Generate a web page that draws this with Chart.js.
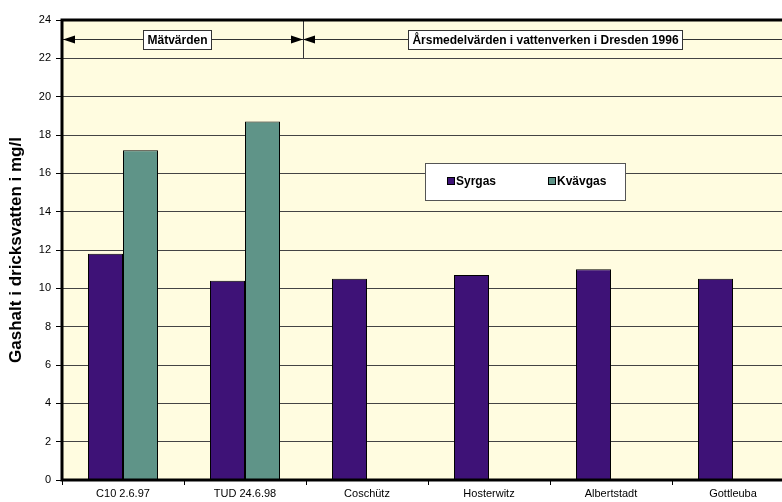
<!DOCTYPE html>
<html>
<head>
<meta charset="utf-8">
<script src="https://cdn.jsdelivr.net/npm/chart.js@4"></script>
<style>
  html, body { margin: 0; padding: 0; background: #fff; overflow: hidden; }
  #wrap { width: 800px; height: 502px; }
</style>
</head>
<body>
<div id="wrap"><canvas id="gasChart" width="800" height="502"></canvas></div>
<script>
// Gashalt per provplats (mg/l)
const categories = ['C10 2.6.97', 'TUD 24.6.98', 'Coschütz', 'Hosterwitz', 'Albertstadt', 'Gottleuba'];
const syrgas = [11.8, 10.4, 10.5, 10.7, 11.0, 10.5];
const kvavgas = [17.2, 18.7, null, null, null, null];
const seriesNames = ['Syrgas', 'Kvävgas'];
const seriesColors = ['#3E1277', '#5F9488'];
const yMin = 0, yMax = 24, yStep = 2;
const periodLabels = ['Mätvärden', 'Årsmedelvärden i vattenverken i Dresden 1996'];
const yTitle = 'Gashalt i dricksvatten i mg/l';

const FONT = "'Liberation Sans', Arial, sans-serif";

function arrowHead(ctx, x, y, dir) {
    ctx.beginPath();
    ctx.moveTo(x, y);
    ctx.lineTo(x - dir * 12, y - 4);
    ctx.lineTo(x - dir * 12, y + 4);
    ctx.closePath();
    ctx.fill();
}

function boxedLabel(ctx, text, cx, cy) {
    ctx.font = 'bold 12px ' + FONT;
    const w = ctx.measureText(text).width + 8;
    const h = 19;
    ctx.fillStyle = '#fff';
    ctx.fillRect(cx - w / 2, cy - h / 2, w, h);
    ctx.strokeStyle = '#333';
    ctx.lineWidth = 1;
    ctx.strokeRect(Math.round(cx - w / 2) + 0.5, Math.round(cy - h / 2) + 0.5, Math.round(w), h);
    ctx.fillStyle = '#000';
    ctx.textAlign = 'center';
    ctx.textBaseline = 'middle';
    ctx.fillText(text, cx, cy + 1);
}

// bakgrund, perioder med pilar, förklaring och ram
const decor = {
    id: 'decor',
    beforeDraw(chart) {
        const { ctx, chartArea: a } = chart;
        ctx.save();
        ctx.fillStyle = '#FFFCE0';
        ctx.fillRect(a.left, a.top, a.right - a.left, a.bottom - a.top);
        ctx.restore();
    },
    afterDatasetsDraw(chart) {
        const { ctx, chartArea: a, scales } = chart;
        const x = scales.x, y = scales.y;
        ctx.save();
        const split = (x.getPixelForValue(1) + x.getPixelForValue(2)) / 2 - 3;
        const ay = Math.round(y.getPixelForValue(23)) + 0.5;
        ctx.strokeStyle = '#333';
        ctx.lineWidth = 1;
        ctx.beginPath();
        ctx.moveTo(Math.round(split) + 0.5, a.top);
        ctx.lineTo(Math.round(split) + 0.5, y.getPixelForValue(22));
        ctx.moveTo(a.left, ay);
        ctx.lineTo(a.right, ay);
        ctx.stroke();
        ctx.fillStyle = '#000';
        arrowHead(ctx, a.left + 1, ay, -1);
        arrowHead(ctx, split, ay, 1);
        arrowHead(ctx, split, ay, -1);
        arrowHead(ctx, a.right, ay, 1);
        boxedLabel(ctx, periodLabels[0], (a.left + split) / 2 - 5, ay);
        boxedLabel(ctx, periodLabels[1], (split + a.right) / 2 - 3, ay);

        // förklaring
        const lx = 425, ly = 163, lw = 200, lh = 37;
        ctx.fillStyle = '#fff';
        ctx.fillRect(lx, ly, lw, lh);
        ctx.strokeStyle = '#555';
        ctx.strokeRect(lx + 0.5, ly + 0.5, lw, lh);
        const itemX = [447, 548];
        ctx.font = 'bold 12px ' + FONT;
        ctx.textAlign = 'left';
        ctx.textBaseline = 'middle';
        seriesNames.forEach((name, i) => {
            ctx.fillStyle = seriesColors[i];
            ctx.fillRect(itemX[i], ly + 14, 8, 8);
            ctx.strokeStyle = '#000';
            ctx.strokeRect(itemX[i] + 0.5, ly + 14.5, 7, 7);
            ctx.fillStyle = '#000';
            ctx.fillText(name, itemX[i] + 9, ly + 19);
        });

        // ram
        ctx.strokeStyle = '#000';
        ctx.lineWidth = 3;
        ctx.strokeRect(a.left, a.top, a.right - a.left, a.bottom - a.top);
        ctx.restore();
    }
};

new Chart(document.getElementById('gasChart'), {
    type: 'bar',
    data: {
        labels: categories,
        datasets: [
            { label: seriesNames[0], data: syrgas, backgroundColor: seriesColors[0], borderColor: '#000', borderWidth: 1 },
            { label: seriesNames[1], data: kvavgas, backgroundColor: seriesColors[1], borderColor: '#000', borderWidth: 1 }
        ]
    },
    options: {
        responsive: false,
        animation: false,
        layout: { padding: { left: 0, top: 20, right: 6, bottom: 0 } },
        datasets: { bar: { categoryPercentage: 0.574, barPercentage: 1 } },
        plugins: { legend: { display: false }, tooltip: { enabled: false } },
        scales: {
            x: {
                afterFit: s => { s.height = 22; },
                grid: { offset: true, drawOnChartArea: false, drawTicks: true, tickLength: 5, tickColor: '#000' },
                border: { display: false },
                ticks: { color: '#000', font: { family: FONT, size: 11 }, padding: 2, maxRotation: 0 }
            },
            y: {
                min: yMin,
                max: yMax,
                afterFit: s => { s.width = 62; },
                ticks: { stepSize: yStep, color: '#000', font: { family: FONT, size: 11 }, padding: 5 },
                grid: { color: '#444', lineWidth: 1, tickLength: 6, tickColor: '#000' },
                border: { display: false },
                title: { display: true, text: yTitle, color: '#000', font: { family: FONT, size: 17, weight: 'bold' }, padding: { top: 6, bottom: 0 } }
            }
        }
    },
    plugins: [decor]
});
</script>
</body>
</html>
